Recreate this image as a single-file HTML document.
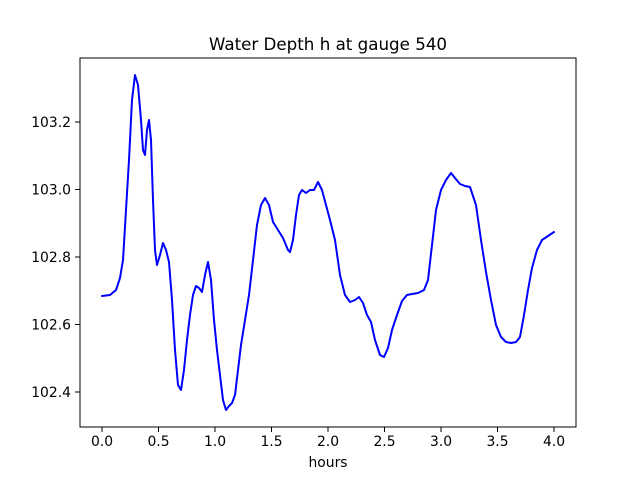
<!DOCTYPE html>
<html><head><meta charset="utf-8"><style>
html,body{margin:0;padding:0;background:#fff;}
svg{display:block;}
text{font-family:"DejaVu Sans","Liberation Sans",sans-serif;font-size:13.9px;fill:#000;}
</style></head><body>
<svg width="640" height="480" viewBox="0 0 640 480" xmlns="http://www.w3.org/2000/svg">
<rect width="640" height="480" fill="#fff"/>
<text x="328" y="50" text-anchor="middle" style="font-size:16.7px">Water Depth h at gauge 540</text>
<polyline fill="none" stroke="#0000ff" stroke-width="2" stroke-linejoin="round" stroke-linecap="round" points="102,296 110,295 116,290 120,278 123,260 126,210 129,160 132,100 135,75 138,85 141,120 143,150 145,155 147,130 149,120 151,140 153,200 155,250 157,265 160,255 163,243 166,250 169,262 172,300 175,350 178,385 181,390 184,370 187,340 190,315 193,295 196,286 199,288 202,292 205,275 208,262 211,280 214,320 217,350 220,375 223,400 226,410 229,406 232,403 235,395 238,370 241,345 245,320 249,295 253,260 257,225 261,205 265,198 269,205 273,222 278,230 283,238 288,250 290,252 293,240 296,215 299,195 302,190 306,193 310,190 314,190 318,182 322,190 326,205 330,220 335,240 340,275 345,295 350,302 355,300 359,297 363,303 367,315 371,322 375,340 380,355 384,357 388,348 392,330 397,315 402,301 407,295 412,294 418,293 424,290 428,280 432,245 436,210 441,190 446,180 451,173 455,178 460,184 465,186 470,187 476,205 481,240 486,272 491,300 496,325 501,337 506,342 511,343 516,342 520,337 524,315 528,290 532,268 537,250 542,240 548,236 554,232"/>
<rect x="80" y="58" width="496" height="369" fill="none" stroke="#000" stroke-width="1"/>
<g stroke="#000" stroke-width="1">
<line x1="102" y1="427" x2="102" y2="432"/><line x1="158.5" y1="427" x2="158.5" y2="432"/><line x1="215" y1="427" x2="215" y2="432"/><line x1="271.5" y1="427" x2="271.5" y2="432"/><line x1="328" y1="427" x2="328" y2="432"/><line x1="384.5" y1="427" x2="384.5" y2="432"/><line x1="441" y1="427" x2="441" y2="432"/><line x1="497.5" y1="427" x2="497.5" y2="432"/><line x1="554" y1="427" x2="554" y2="432"/>
<line x1="75" y1="122" x2="80" y2="122"/><line x1="75" y1="189.5" x2="80" y2="189.5"/><line x1="75" y1="257" x2="80" y2="257"/><line x1="75" y1="324.5" x2="80" y2="324.5"/><line x1="75" y1="392" x2="80" y2="392"/>
</g>
<g text-anchor="middle">
<text x="102" y="446">0.0</text><text x="158.5" y="446">0.5</text><text x="215" y="446">1.0</text><text x="271.5" y="446">1.5</text><text x="328" y="446">2.0</text><text x="384.5" y="446">2.5</text><text x="441" y="446">3.0</text><text x="497.5" y="446">3.5</text><text x="554" y="446">4.0</text>
<text x="328" y="467">hours</text>
</g>
<g text-anchor="end">
<text x="71" y="127">103.2</text><text x="71" y="194.5">103.0</text><text x="71" y="262">102.8</text><text x="71" y="329.5">102.6</text><text x="71" y="397">102.4</text>
</g>
</svg>
</body></html>
